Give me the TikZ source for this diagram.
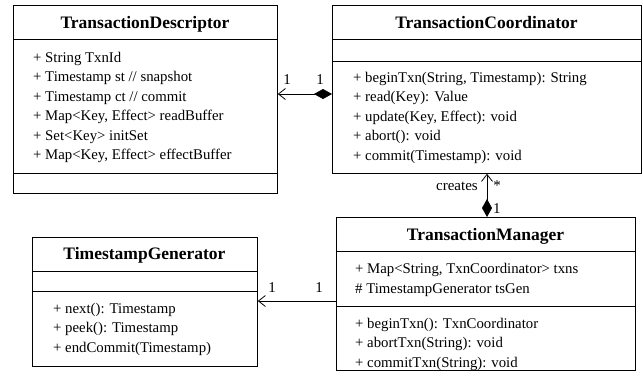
\documentclass[tikz,border=0pt]{standalone}
\usepackage{fontspec}
\setmainfont{Liberation Serif}
\usetikzlibrary{arrows.meta}
\tikzset{
  box/.style={draw, line width=0.8pt, anchor=north west, inner sep=0pt, minimum width=#1},
  ttl/.style={font=\fontsize{17.5}{20}\selectfont\bfseries, inner sep=0pt, anchor=base},
  mem/.style={font=\fontsize{14.8}{19}\selectfont, inner sep=0pt, anchor=base west},
  lbl/.style={font=\fontsize{15}{19}\selectfont, inner sep=0pt, anchor=base},
  sep/.style={line width=0.8pt},
  conn/.style={line width=0.8pt},
  openarr/.tip={Straight Barb[length=7pt,width=11pt,line width=0.8pt]},
  dia/.tip={Diamond[length=18pt,width=10pt]}
}
\begin{document}
\begin{tikzpicture}[x=1pt,y=-1pt]
\useasboundingbox (0,0) rectangle (643,381);
% TransactionDescriptor
\node[box=264pt, minimum height=188pt] (desc) at (13,5) {};
\node[ttl] (desct) at (145,28) {TransactionDescriptor};
\draw[sep] (13,39) -- (277,39);
\draw[sep] (13,173) -- (277,173);
\node[mem] (d1) at (33,62) {+ String TxnId};
\node[mem] (d2) at (33,81.5) {+ Timestamp st // snapshot};
\node[mem] (d3) at (33,101) {+ Timestamp ct // commit};
\node[mem] (d4) at (33,120.5) {+ Map<Key, Effect> readBuffer};
\node[mem] (d5) at (33,140) {+ Set<Key> initSet};
\node[mem] (d6) at (33,159.5) {+ Map<Key, Effect> effectBuffer};
% TransactionCoordinator
\node[box=309pt, minimum height=168pt] (coord) at (332,5) {};
\node[ttl] (coordt) at (486.5,28) {TransactionCoordinator};
\draw[sep] (332,39) -- (641,39);
\draw[sep] (332,61) -- (641,61);
\node[mem] (c1) at (353,82) {+ beginTxn(String, Timestamp): String};
\node[mem] (c2) at (353,101.5) {+ read(Key): Value};
\node[mem] (c3) at (353,121) {+ update(Key, Effect): void};
\node[mem] (c4) at (353,140.5) {+ abort(): void};
\node[mem] (c5) at (353,160) {+ commit(Timestamp): void};
% TimestampGenerator
\node[box=225pt, minimum height=129pt] (gen) at (32,237) {};
\node[ttl] (gent) at (144.5,259) {TimestampGenerator};
\draw[sep] (32,271) -- (257,271);
\draw[sep] (32,291) -- (257,291);
\node[mem] (g1) at (53,313) {+ next(): Timestamp};
\node[mem] (g2) at (53,332.5) {+ peek(): Timestamp};
\node[mem] (g3) at (53,352) {+ endCommit(Timestamp)};
% TransactionManager
\node[box=299pt, minimum height=153pt] (mgr) at (336,217) {};
\node[ttl] (mgrt) at (485.5,240) {TransactionManager};
\draw[sep] (336,251) -- (635,251);
\draw[sep] (336,306) -- (635,306);
\node[mem] (m1) at (355,273) {+ Map<String, TxnCoordinator> txns};
\node[mem] (m2) at (355,293) {\# TimestampGenerator tsGen};
\node[mem] (m3) at (355,328) {+ beginTxn(): TxnCoordinator};
\node[mem] (m4) at (355,347.5) {+ abortTxn(String): void};
\node[mem] (m5) at (355,367) {+ commitTxn(String): void};
% connectors
\coordinate (ya) at (0,94);
\coordinate (yb) at (0,301);
\coordinate (xc) at (487,0);
\draw[conn, dia-openarr] (coord.west |- ya) -- (desc.east |- ya);
\node[lbl] (l1) at (287,84) {1};
\node[lbl] (l2) at (320,84) {1};
\draw[conn, -openarr] (mgr.west |- yb) -- (gen.east |- yb);
\node[lbl] (l3) at (272,292) {1};
\node[lbl] (l4) at (319,292) {1};
\draw[conn, dia-openarr] (mgr.north -| xc) -- (coord.south -| xc);
\node[lbl, anchor=base east] (l5) at (478,190) {creates};
\node[lbl] (l6) at (497,190) {*};
\node[lbl, anchor=base west] (l7) at (493,213) {1};
\end{tikzpicture}
\end{document}
